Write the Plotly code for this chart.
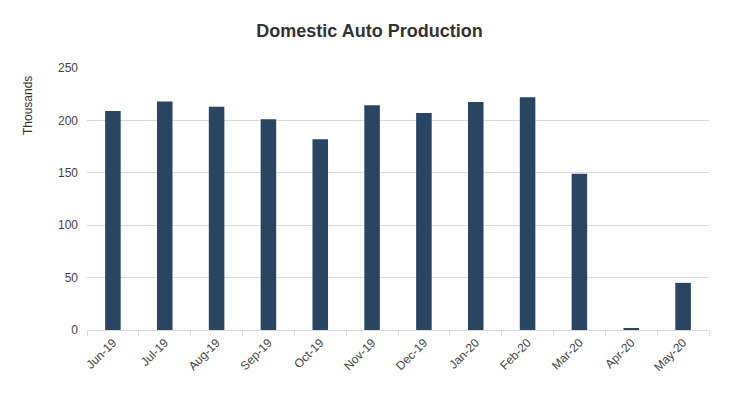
import plotly.graph_objects as go

months = ["Jun-19", "Jul-19", "Aug-19", "Sep-19", "Oct-19", "Nov-19",
          "Dec-19", "Jan-20", "Feb-20", "Mar-20", "Apr-20", "May-20"]
production = [209, 218, 213, 201, 182, 214.5, 207, 217.5, 222, 149, 1.3, 45]

fig = go.Figure(go.Bar(x=months, y=production, marker_color="#2a4561",
                       marker_line_width=0, width=0.3))

font = "Liberation Sans, Arial, sans-serif"
# page body has an 8px margin, so the figure is sized to fill the rest of the window
W, H = 741, 388
fig.update_layout(
    width=W, height=H,
    margin=dict(l=79, r=40, t=60, b=66, autoexpand=False),
    paper_bgcolor="white", plot_bgcolor="white",
    font=dict(family=font, size=12, color="#333333"),
    title=dict(text="<b>Domestic Auto Production</b>", x=361.5 / W, xanchor="center",
               y=1 - 23 / H, yanchor="middle", font=dict(size=18, color="#333333")),
    showlegend=False,
    bargap=0.7,
)
fig.add_annotation(text="Thousands", textangle=-90, xref="paper", yref="paper",
                   x=(20 - 79) / (W - 79 - 40), y=(H - 66 - 98) / (H - 60 - 66),
                   xanchor="center", yanchor="middle", showarrow=False,
                   font=dict(size=12, color="#333333"))
fig.update_yaxes(range=[0, 250], dtick=50, showgrid=True, gridcolor="#d9d9d9",
                 gridwidth=1, zeroline=False, showline=False,
                 tickfont=dict(size=12, color="#444444"), ticks="", ticklabelstandoff=8)
fig.update_xaxes(showline=True, linecolor="#d9d9d9", linewidth=1,
                 ticks="outside", tickson="boundaries", ticklen=5, tickcolor="#d9d9d9",
                 tickangle=-45, tickfont=dict(size=12, color="#444444"),
                 showgrid=False)
fig.write_html("out.html")
